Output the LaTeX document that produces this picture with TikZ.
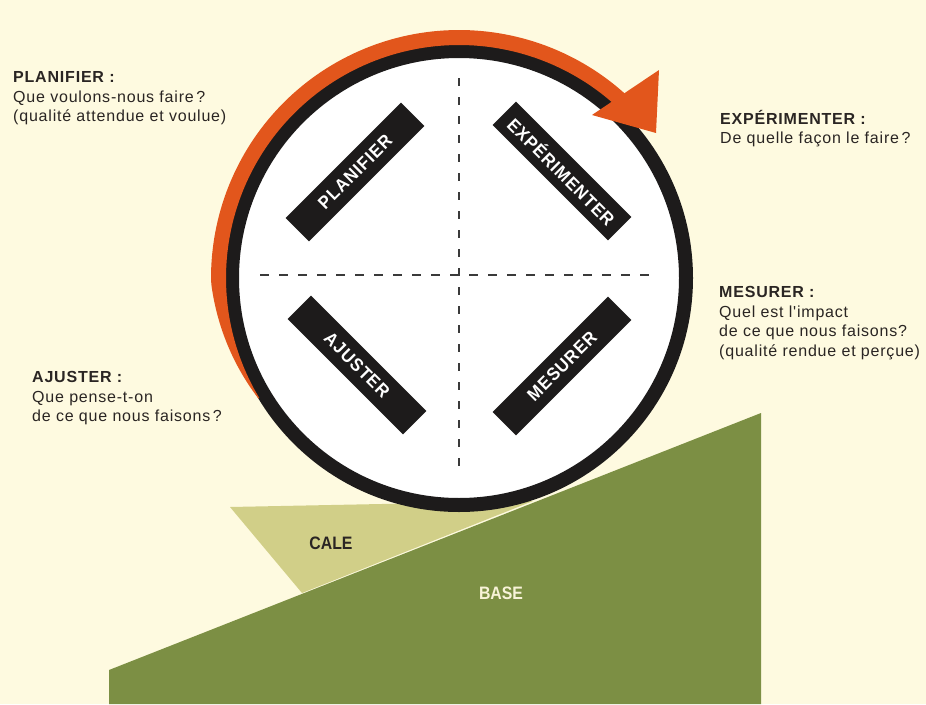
\documentclass[tikz,border=0pt]{standalone}
\usepackage{fontspec}
\setmainfont{Liberation Sans}
\newfontfamily\labfont[LetterSpace=5]{Liberation Sans}
\newfontfamily\barfont[LetterSpace=6]{Liberation Sans}
\definecolor{bgc}{HTML}{FEFAE0}
\definecolor{orangec}{HTML}{E2561C}
\definecolor{greenc}{HTML}{7C8F44}
\definecolor{calec}{HTML}{D1CF88}
\definecolor{barc}{HTML}{1D1B1B}
\definecolor{textc}{HTML}{2A2523}
\definecolor{dashc}{HTML}{3A3A3A}
\definecolor{basetext}{HTML}{F8F3D8}
\begin{document}
\begin{tikzpicture}[x=1pt,y=-1pt,
  lab/.style={anchor=north west, inner sep=0pt, align=left, text=textc,
    font=\labfont\fontsize{16}{19.5}\selectfont},
  bar/.style={fill=barc, text=white, minimum width=163pt, minimum height=33pt,
    inner sep=0pt, font=\barfont\bfseries\fontsize{18}{18}\selectfont},
  ground/.style={font=\bfseries\fontsize{18}{18}\selectfont, inner sep=0pt},
  dashline/.style={draw=dashc, line width=2pt}
]
\fill[bgc] (0,0) rectangle (926,704);
\useasboundingbox (0,0) rectangle (926,704);

% base and wedge
\fill[greenc] (109,670) -- (761,413) -- (761,704) -- (109,704) -- cycle;
\fill[calec] (230,507) -- (533,501) -- (302,593) -- cycle;

% wheel
\draw[barc, fill=white, line width=14pt] (459,278) circle[radius=227];

% orange band
\fill[orangec] plot[domain=211:46, samples=120]
  ({459+(234+14*min(1,(211-\x)/30))*cos(\x)}, {278-(234+14*min(1,(211-\x)/30))*sin(\x)})
  -- plot[domain=46:211, samples=120] ({459+233*cos(\x)}, {278-233*sin(\x)}) -- cycle;
\fill[orangec] (592,115) -- (659,70) -- (656,133) -- cycle;

% dashed cross
\draw[dashline, dash pattern=on 9pt off 10pt] (260,275) -- (658,275);
\draw[dashline, dash pattern=on 8pt off 11pt] (459,78) -- (459,475);

% bars
\node[bar, rotate=45]  (plan) at (355,172) {\scalebox{0.93}[1]{PLANIFIER}};
\node[bar, rotate=-45] (exp)  at (562,171) {\scalebox{0.93}[1]{EXPÉRIMENTER}};
\node[bar, rotate=-45] (aju)  at (357,365) {\scalebox{0.93}[1]{AJUSTER}};
\node[bar, rotate=45]  (mes)  at (562,366) {\scalebox{0.93}[1]{MESURER}};

% ground labels
\node[ground, text=textc] (cale) at (331,543) {\scalebox{0.88}[1]{CALE}};
\node[ground, text=basetext] (base) at (501,593) {\scalebox{0.88}[1]{BASE}};

% side labels
\node[lab] (lplan) at (13,69) {\strut\textbf{PLANIFIER :}\\\strut Que voulons-nous faire\,?\\\strut (qualité attendue et voulue)};
\node[lab] (lexp) at (720,110) {\strut\textbf{EXPÉRIMENTER :}\\\strut De quelle façon le faire\,?};
\node[lab] (lmes) at (719,284) {\strut\textbf{MESURER :}\\\strut Quel est l'impact\\\strut de ce que nous faisons?\\\strut (qualité rendue et perçue)};
\node[lab] (laju) at (32,369) {\strut\textbf{AJUSTER :}\\\strut Que pense-t-on\\\strut de ce que nous faisons\,?};
\end{tikzpicture}
\end{document}
